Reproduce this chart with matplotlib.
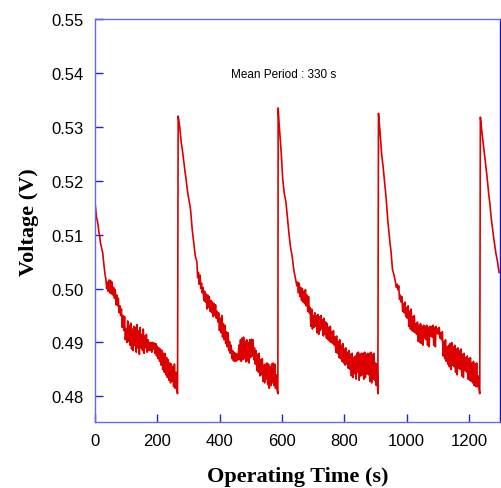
import numpy as np
import matplotlib
matplotlib.use('Agg')
import matplotlib.pyplot as plt

# sampling step of the trace (s)
step = 2.5

# cycle start times (s) and voltage readings (V)
start0 = 0
volt0 = [0.5160, 0.5145, 0.5132, 0.5126, 0.5118, 0.5105, 0.5098, 0.5085, 0.5078, 0.5072,
         0.5066, 0.5050, 0.5038, 0.5025, 0.5018, 0.5000, 0.5012, 0.4995, 0.5016, 0.4992,
         0.5015, 0.4990, 0.5012, 0.4988, 0.5002, 0.4982, 0.4998, 0.4970, 0.4988, 0.4968,
         0.4982, 0.4955, 0.4968, 0.4950, 0.4962, 0.4928, 0.4950, 0.4922, 0.4948, 0.4905,
         0.4925, 0.4900, 0.4940, 0.4902, 0.4932, 0.4895, 0.4936, 0.4888, 0.4925, 0.4885,
         0.4930, 0.4895, 0.4928, 0.4882, 0.4933, 0.4890, 0.4922, 0.4878, 0.4928, 0.4890,
         0.4915, 0.4885, 0.4925, 0.4880, 0.4912, 0.4890, 0.4915, 0.4882, 0.4905, 0.4885,
         0.4900, 0.4885, 0.4900, 0.4882, 0.4900, 0.4888, 0.4899, 0.4880, 0.4898, 0.4875,
         0.4893, 0.4870, 0.4890, 0.4865, 0.4888, 0.4858, 0.4885, 0.4850, 0.4880, 0.4845,
         0.4880, 0.4840, 0.4872, 0.4835, 0.4868, 0.4830, 0.4862, 0.4825, 0.4860, 0.4828,
         0.4855, 0.4818, 0.4860, 0.4815, 0.4845, 0.4812, 0.4805]

start1 = 267
volt1 = [0.5320, 0.5310, 0.5300, 0.5285, 0.5270, 0.5262, 0.5250, 0.5238, 0.5225, 0.5215,
         0.5205, 0.5192, 0.5180, 0.5172, 0.5165, 0.5155, 0.5145, 0.5128, 0.5110, 0.5098,
         0.5085, 0.5072, 0.5060, 0.5055, 0.5050, 0.5020, 0.5030, 0.5008, 0.5025, 0.5000,
         0.5010, 0.4992, 0.5002, 0.4978, 0.4995, 0.4975, 0.4990, 0.4962, 0.4988, 0.4965,
         0.4985, 0.4958, 0.4978, 0.4955, 0.4975, 0.4948, 0.4972, 0.4950, 0.4970, 0.4945,
         0.4958, 0.4938, 0.4955, 0.4922, 0.4945, 0.4918, 0.4950, 0.4910, 0.4935, 0.4905,
         0.4932, 0.4898, 0.4920, 0.4892, 0.4918, 0.4885, 0.4902, 0.4880, 0.4895, 0.4870,
         0.4885, 0.4866, 0.4882, 0.4865, 0.4880, 0.4866, 0.4878, 0.4868, 0.4895, 0.4868,
         0.4905, 0.4865, 0.4908, 0.4868, 0.4910, 0.4870, 0.4902, 0.4864, 0.4905, 0.4866,
         0.4900, 0.4862, 0.4905, 0.4872, 0.4906, 0.4875, 0.4905, 0.4868, 0.4890, 0.4860,
         0.4885, 0.4848, 0.4878, 0.4845, 0.4880, 0.4838, 0.4868, 0.4840, 0.4870, 0.4828,
         0.4858, 0.4825, 0.4860, 0.4832, 0.4862, 0.4822, 0.4860, 0.4815, 0.4855, 0.4820,
         0.4860, 0.4825, 0.4862, 0.4820, 0.4860, 0.4815, 0.4840, 0.4812, 0.4805]

start2 = 588
volt2 = [0.5335, 0.5310, 0.5290, 0.5270, 0.5250, 0.5225, 0.5200, 0.5188, 0.5175, 0.5168,
         0.5160, 0.5145, 0.5130, 0.5115, 0.5100, 0.5088, 0.5075, 0.5068, 0.5060, 0.5048,
         0.5035, 0.5028, 0.5020, 0.5012, 0.5005, 0.5012, 0.4992, 0.5010, 0.4985, 0.5002,
         0.4978, 0.5000, 0.4975, 0.4995, 0.4972, 0.4998, 0.4968, 0.4988, 0.4958, 0.4985,
         0.4955, 0.4965, 0.4930, 0.4962, 0.4925, 0.4950, 0.4928, 0.4955, 0.4930, 0.4950,
         0.4918, 0.4952, 0.4915, 0.4948, 0.4922, 0.4950, 0.4925, 0.4942, 0.4912, 0.4945,
         0.4915, 0.4938, 0.4908, 0.4935, 0.4905, 0.4928, 0.4902, 0.4930, 0.4900, 0.4920,
         0.4898, 0.4922, 0.4895, 0.4910, 0.4882, 0.4912, 0.4880, 0.4902, 0.4872, 0.4905,
         0.4870, 0.4895, 0.4865, 0.4898, 0.4862, 0.4888, 0.4858, 0.4890, 0.4860, 0.4882,
         0.4852, 0.4885, 0.4850, 0.4878, 0.4838, 0.4880, 0.4835, 0.4872, 0.4842, 0.4875,
         0.4832, 0.4880, 0.4845, 0.4882, 0.4830, 0.4878, 0.4838, 0.4880, 0.4840, 0.4880,
         0.4832, 0.4882, 0.4835, 0.4878, 0.4842, 0.4880, 0.4840, 0.4880, 0.4828, 0.4882,
         0.4825, 0.4878, 0.4832, 0.4880, 0.4830, 0.4862, 0.4820, 0.4860, 0.4805]

start3 = 910
volt3 = [0.5325, 0.5308, 0.5290, 0.5270, 0.5250, 0.5238, 0.5225, 0.5210, 0.5195, 0.5180,
         0.5165, 0.5145, 0.5125, 0.5110, 0.5095, 0.5082, 0.5070, 0.5052, 0.5035, 0.5030,
         0.5025, 0.5018, 0.5010, 0.5002, 0.5008, 0.4998, 0.5005, 0.4980, 0.4988, 0.4975,
         0.4985, 0.4958, 0.4972, 0.4955, 0.4975, 0.4948, 0.4965, 0.4945, 0.4968, 0.4930,
         0.4958, 0.4925, 0.4962, 0.4922, 0.4948, 0.4920, 0.4950, 0.4918, 0.4935, 0.4915,
         0.4938, 0.4902, 0.4932, 0.4900, 0.4935, 0.4898, 0.4930, 0.4895, 0.4932, 0.4908,
         0.4930, 0.4905, 0.4932, 0.4895, 0.4928, 0.4892, 0.4930, 0.4912, 0.4930, 0.4910,
         0.4932, 0.4895, 0.4928, 0.4892, 0.4930, 0.4918, 0.4925, 0.4915, 0.4928, 0.4908,
         0.4918, 0.4905, 0.4920, 0.4875, 0.4902, 0.4870, 0.4905, 0.4865, 0.4892, 0.4860,
         0.4895, 0.4855, 0.4898, 0.4850, 0.4900, 0.4858, 0.4892, 0.4855, 0.4895, 0.4845,
         0.4888, 0.4840, 0.4890, 0.4852, 0.4885, 0.4850, 0.4888, 0.4838, 0.4878, 0.4835,
         0.4880, 0.4848, 0.4872, 0.4845, 0.4875, 0.4832, 0.4870, 0.4830, 0.4872, 0.4828,
         0.4862, 0.4825, 0.4865, 0.4820, 0.4860, 0.4818, 0.4862, 0.4818, 0.4838, 0.4815,
         0.4805]

start4 = 1237
volt4 = [0.5318, 0.5305, 0.5290, 0.5278, 0.5265, 0.5252, 0.5240, 0.5228, 0.5215, 0.5200,
         0.5185, 0.5172, 0.5160, 0.5145, 0.5130, 0.5118, 0.5105, 0.5095, 0.5085, 0.5075,
         0.5065, 0.5058, 0.5050, 0.5040, 0.5030]

starts = [start0, start1, start2, start3, start4]
volts = [volt0, volt1, volt2, volt3, volt4]

xticks = [0, 200, 400, 600, 800, 1000, 1200]
yticks = [0.48, 0.49, 0.50, 0.51, 0.52, 0.53, 0.54, 0.55]

t_all = np.concatenate([s + step * np.arange(len(v)) for s, v in zip(starts, volts)])
v_all = np.concatenate([np.array(v) for v in volts])

fig = plt.figure(figsize=(5.02, 4.89), dpi=100)
ax = fig.add_axes([0.1892, 0.1344, 0.8068, 0.8247])

ax.plot(t_all, v_all, color='#dd0000', lw=1.2)

ax.set_xlim(0, 1300)
ax.set_ylim(0.4752, 0.55)
ax.set_xticks(xticks)
ax.set_yticks(yticks)
ax.set_yticklabels(['%.2f' % y for y in yticks])

for side in ['left', 'top', 'bottom']:
    ax.spines[side].set_color('#6666ee')
    ax.spines[side].set_linewidth(1.0)
ax.spines['right'].set_color('#1111dd')
ax.spines['right'].set_linewidth(1.0)

ax.tick_params(direction='in', length=6, width=1.0, color='#2222cc',
               labelsize=12, pad=8)
for lab in ax.get_xticklabels() + ax.get_yticklabels():
    lab.set_family('Liberation Sans')

ax.set_xlabel('Operating Time (s)', family='Liberation Serif', fontweight='bold',
              fontsize=16, labelpad=13)
ax.set_ylabel('Voltage (V)', family='Liberation Serif', fontweight='bold',
              fontsize=16, labelpad=9)

ax.text(0.465, 0.864, 'Mean Period : 330 s', transform=ax.transAxes,
        family='Liberation Sans', fontsize=8.5, ha='center', va='center')

fig.savefig('out.png', dpi=100)
